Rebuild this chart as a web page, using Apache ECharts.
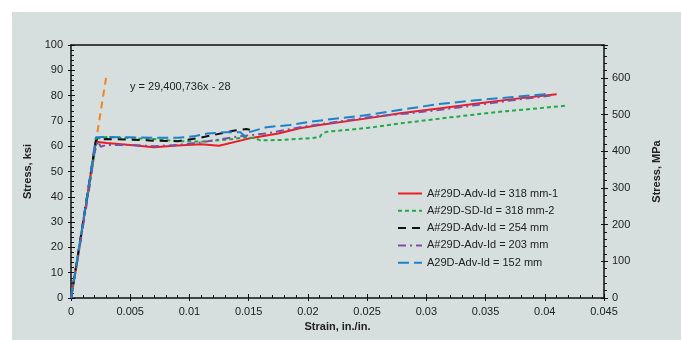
<!DOCTYPE html>
<html><head><meta charset="utf-8">
<script src="https://cdn.jsdelivr.net/npm/echarts@6/dist/echarts.min.js"></script>
<style>html,body{margin:0;padding:0;background:#fff}#c{width:681px;height:340px}</style>
</head><body><div id="c"></div>
<script>
// Strain (in./in.), Stress (ksi)
const seriesNames = ["A#29D-Adv-Id = 318 mm-1","A#29D-SD-Id = 318 mm-2","A#29D-Adv-Id = 254 mm","A#29D-Adv-Id = 203 mm","A29D-Adv-Id = 152 mm"];
const red = [[0,0],[0.0005,14],[0.001,29],[0.0015,44],[0.0021,61.8],[0.003,61.3],[0.005,60.5],[0.007,59.6],[0.009,60.3],[0.011,60.8],[0.0125,60.2],[0.015,63],[0.0175,65],[0.0193,67.1],[0.021,68.4],[0.025,71],[0.0278,73],[0.0312,75],[0.035,77.3],[0.038,79],[0.041,80.5]];
const green = [[0,0],[0.0005,14],[0.001,28.5],[0.0015,43],[0.0022,63],[0.003,63.6],[0.005,63.2],[0.007,62.8],[0.009,62],[0.011,61.8],[0.013,62.5],[0.0148,63.5],[0.0155,63.2],[0.016,62.3],[0.018,62.5],[0.0205,63.3],[0.021,63.6],[0.0212,65],[0.0216,65.7],[0.025,67.2],[0.0278,69],[0.032,71.4],[0.036,73.5],[0.0418,76]];
const black = [[0,0],[0.0005,14.5],[0.001,29.5],[0.0015,44.5],[0.0021,62.5],[0.003,62.8],[0.005,62.6],[0.007,62.2],[0.009,62],[0.0105,63],[0.012,64.4],[0.0137,66.1],[0.0148,66.8],[0.0151,66.5]];
const purple = [[0,0],[0.0005,13.5],[0.001,28],[0.0015,42],[0.002,58],[0.0023,62],[0.0025,59.8],[0.003,60.5],[0.005,60.5],[0.007,60],[0.009,60.5],[0.011,61.5],[0.014,63.8],[0.0166,65.1],[0.0196,67.7],[0.0255,71.7],[0.0286,73],[0.031,74.3],[0.0343,76.3],[0.0375,78.3],[0.0405,80]];
const blue = [[0,0],[0.0005,14.5],[0.001,29.5],[0.0015,44.5],[0.0021,63.5],[0.003,63.7],[0.005,63.5],[0.007,63.3],[0.009,63.3],[0.0105,64],[0.0115,65],[0.013,65.5],[0.0143,65.5],[0.0147,63.8],[0.015,65.5],[0.0165,67.5],[0.0185,68.4],[0.0202,69.7],[0.025,72.3],[0.0309,76.6],[0.035,78.5],[0.0399,80.5],[0.0404,81]];
const trend = [[0,0],[0.00296,87]];
const trendLabel = "y = 29,400,736x - 28";
const ksiTicks = [0,10,20,30,40,50,60,70,80,90,100];
const mpaTicks = [0,100,200,300,400,500,600];
const KSI_TO_MPA = 6.89476;

const chart = echarts.init(document.getElementById('c'));
const font = 'Liberation Sans, Arial, sans-serif';
const axisLbl = {color:'#222', fontSize:11, fontFamily:font};
const mk = (name, data, color, dash, width) => ({
  name, type:'line', data, symbol:'none', showSymbol:false, xAxisIndex:0, yAxisIndex:0,
  lineStyle:{color, width:width||2, type:dash}, itemStyle:{color}, animation:false
});
chart.setOption({
  animation:false,
  graphic:[
    {type:'rect', z:-10, shape:{x:12,y:12,width:669,height:328}, style:{fill:'#d6dfde'}},
    {type:'text', left:130, top:81, style:{text:trendLabel, fill:'#222', font:'11px '+font}}
  ],
  grid:{left:71, right:77, top:45, bottom:42, show:false},
  legend:{
    orient:'vertical', left:392, top:183, itemWidth:24, itemHeight:12, itemGap:6.3,
    itemStyle:{opacity:0},
    textStyle:{color:'#222', fontSize:11, fontFamily:font}, data:seriesNames
  },
  xAxis:[
    {type:'value', min:0, max:0.045, interval:0.005, position:'bottom',
     name:'Strain, in./in.', nameLocation:'middle', nameGap:23,
     nameTextStyle:{fontWeight:'bold', fontSize:11, color:'#222', fontFamily:font},
     axisLine:{onZero:false, lineStyle:{color:'#111', width:1.5}},
     axisTick:{inside:false, length:3, lineStyle:{color:'#111'}},
     axisLabel:Object.assign({margin:8, formatter:v=>String(+v.toFixed(3))}, axisLbl),
     splitLine:{show:false}},
    {type:'value', min:0, max:0.045, interval:0.005, position:'bottom', gridIndex:0,
     axisLine:{show:false, onZero:false}, axisLabel:{show:false},
     axisTick:{inside:true, length:4, lineStyle:{color:'#111'}},
     minorTick:{show:true, splitNumber:5, length:3, lineStyle:{color:'#111'}},
     splitLine:{show:false}},
    {type:'value', min:0, max:0.045, position:'top', axisLine:{onZero:false, lineStyle:{color:'#111', width:1.5}},
     axisTick:{show:false}, axisLabel:{show:false}, splitLine:{show:false}}
  ],
  yAxis:[
    {type:'value', min:0, max:100, interval:10, position:'left',
     name:'Stress, ksi', nameLocation:'middle', nameGap:32, nameRotate:90,
     nameTextStyle:{fontWeight:'bold', fontSize:11, color:'#222', fontFamily:font},
     axisLine:{onZero:false, lineStyle:{color:'#111', width:1.5}},
     axisTick:{inside:false, length:3, lineStyle:{color:'#111'}},
     axisLabel:Object.assign({margin:8}, axisLbl), splitLine:{show:false}},
    {type:'value', min:0, max:100*KSI_TO_MPA, interval:100, position:'right',
     name:'Stress, MPa', nameLocation:'middle', nameGap:47, nameRotate:90,
     nameTextStyle:{fontWeight:'bold', fontSize:11, color:'#222', fontFamily:font},
     axisLine:{show:true, onZero:false, lineStyle:{color:'#111', width:1.5}},
     axisTick:{show:true, inside:false, length:4, lineStyle:{color:'#111'}},
     minorTick:{show:true, splitNumber:5, length:3, lineStyle:{color:'#111'}},
     axisLabel:Object.assign({margin:8, showMaxLabel:false, formatter:v=>(v>600.5?'':String(Math.round(v)))}, axisLbl),
     splitLine:{show:false}},
    {type:'value', min:0, max:100, interval:10, position:'left',
     axisLine:{show:false, onZero:false}, axisLabel:{show:false},
     axisTick:{inside:true, length:4, lineStyle:{color:'#111'}},
     minorTick:{show:true, splitNumber:5, length:3, lineStyle:{color:'#111'}},
     splitLine:{show:false}},
    {type:'value', min:0, max:100*KSI_TO_MPA, interval:100, position:'right',
     axisLine:{show:false, onZero:false}, axisLabel:{show:false},
     axisTick:{inside:true, length:3, lineStyle:{color:'#111'}},
     splitLine:{show:false}}
  ],
  series:[
    mk(seriesNames[0], red, '#ee1c25', 'solid', 2),
    mk(seriesNames[1], green, '#22a84a', [4,3], 2),
    mk(seriesNames[2], black, '#111111', [8,6], 2),
    mk(seriesNames[3], purple, '#7f4f9f', [8,4,2,4], 2),
    mk(seriesNames[4], blue, '#1c82c9', [11,5], 2),
    Object.assign(mk('trend', trend, '#f5821f', [7,5], 2), {z:1})
  ]
});
</script></body></html>
